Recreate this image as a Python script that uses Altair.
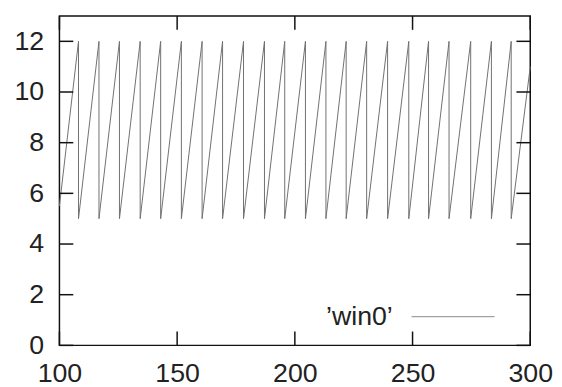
import altair as alt
import pandas as pd

# Sawtooth series 'win0': x positions of the peaks (value 12, then drop to 5)
peak_x = [108.1, 116.8, 125.5, 134.3, 143.0, 151.8, 160.6, 169.3, 178.2, 187.1,
          195.7, 204.5, 213.2, 221.8, 230.5, 239.4, 248.4, 256.8, 265.5, 274.7,
          283.5, 291.9]
peak_y = 12
trough_y = 5
start_point = (100, 5.5)
end_point = (300, 11.0)

x_ticks = [100, 150, 200, 250, 300]
y_ticks = [0, 2, 4, 6, 8, 10, 12]
legend_label = "\u2019win0\u2019"

W, H = 476, 333
FONT = "Liberation Sans"
FS = 27
TICK = 14

xs, ys = [start_point[0]], [start_point[1]]
for p in peak_x:
    xs += [p, p]
    ys += [peak_y, trough_y]
xs.append(end_point[0])
ys.append(end_point[1])
series = pd.DataFrame({"x": xs, "y": ys, "i": list(range(len(xs)))})

xscale = alt.Scale(domain=[100, 300], nice=False, zero=False)
yscale = alt.Scale(domain=[0, 13], nice=False)

xaxis = alt.Axis(values=x_ticks, ticks=False, domain=False, grid=False, title=None,
                 labelFont=FONT, labelFontSize=FS, labelColor="#222", labelPadding=16,
                 labelFlush=False)
yaxis = alt.Axis(values=y_ticks, ticks=False, domain=False, grid=False, title=None,
                 labelFont=FONT, labelFontSize=FS, labelColor="#222", labelPadding=16)

line = alt.Chart(series).mark_line(color="#707070", strokeWidth=1).encode(
    x=alt.X("x:Q", scale=xscale, axis=xaxis),
    y=alt.Y("y:Q", scale=yscale, axis=yaxis),
    order="i:Q",
)

xt = pd.DataFrame({"v": x_ticks})
yt = pd.DataFrame({"v": y_ticks})

tick_style = dict(color="#111", strokeWidth=1.5)
xb = alt.Chart(xt).mark_rule(**tick_style).encode(
    x=alt.X("v:Q", scale=xscale), y=alt.value(H), y2=alt.value(H - TICK))
xtp = alt.Chart(xt).mark_rule(**tick_style).encode(
    x=alt.X("v:Q", scale=xscale), y=alt.value(0), y2=alt.value(TICK))
yl = alt.Chart(yt).mark_rule(**tick_style).encode(
    y=alt.Y("v:Q", scale=yscale), x=alt.value(0), x2=alt.value(TICK))
yr = alt.Chart(yt).mark_rule(**tick_style).encode(
    y=alt.Y("v:Q", scale=yscale), x=alt.value(W - TICK), x2=alt.value(W))

leg = pd.DataFrame({"label": [legend_label]})
leg_text = alt.Chart(leg).mark_text(align="right", baseline="middle", font=FONT,
                                    fontSize=FS, color="#222").encode(
    text="label:N", x=alt.value(337), y=alt.value(304))
leg_line = alt.Chart(leg).mark_rule(color="#8a8a8a", strokeWidth=1).encode(
    x=alt.value(356), x2=alt.value(440), y=alt.value(304))

chart = alt.layer(line, xb, xtp, yl, yr, leg_text, leg_line).properties(
    width=W, height=H,
    autosize=alt.AutoSizeParams(type="none"),
    padding={"left": 52, "top": 6, "right": 24, "bottom": 40},
).configure_view(stroke="#111", strokeWidth=1.5)

chart.save("out.html", embed_options={"renderer": "svg", "actions": False})
